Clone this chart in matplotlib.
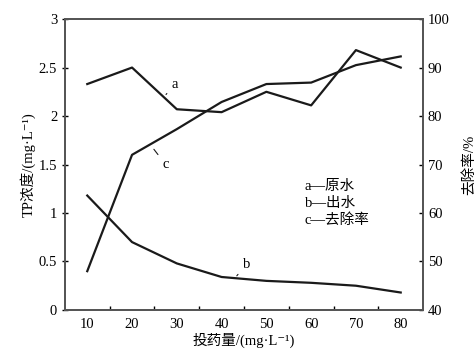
import matplotlib
matplotlib.use('Agg')
import matplotlib.pyplot as plt
from matplotlib.ticker import MultipleLocator, FuncFormatter

plt.rcParams['font.family'] = ['Liberation Serif', 'Noto Sans CJK SC', 'DejaVu Sans']

# Data
dose = [10, 20, 30, 40, 50, 60, 70, 80]
raw_tp = [2.33, 2.50, 2.07, 2.04, 2.25, 2.11, 2.68, 2.50]       # a 原水
out_tp = [1.18, 0.70, 0.48, 0.34, 0.30, 0.28, 0.25, 0.18]       # b 出水
removal = [48.0, 72.0, 77.3, 82.9, 86.6, 86.9, 90.5, 92.3]      # c 去除率

LINE = '#1a1a1a'
FS = 10.5

fig = plt.figure(figsize=(4.77, 3.6), dpi=100)
ax = fig.add_axes([0.136, 0.139, 0.751, 0.808])
ax2 = ax.twinx()

ax.plot(dose, raw_tp, color=LINE, lw=1.6)
ax.plot(dose, out_tp, color=LINE, lw=1.6)
ax2.plot(dose, removal, color=LINE, lw=1.6)

ax.set_xlim(5, 85)
ax.set_ylim(0, 3)
ax2.set_ylim(40, 100)
ax.set_xticks(dose)
ax.set_xticks([15, 25, 35, 45, 55, 65, 75], minor=True)
ax.yaxis.set_major_locator(MultipleLocator(0.5))
ax.yaxis.set_major_formatter(FuncFormatter(lambda v, p: f'{v:g}'))
ax2.yaxis.set_major_locator(MultipleLocator(10))

ax.tick_params(axis='x', which='major', length=0, labelsize=FS, pad=6)
ax.tick_params(axis='x', which='minor', direction='in', length=3, width=1)
ax.tick_params(axis='y', direction='inout', length=4, width=1, labelsize=FS)
ax2.tick_params(axis='y', direction='in', length=3, width=1, labelsize=FS)

for a in (ax, ax2):
    for s in a.spines.values():
        s.set_linewidth(1.3)
        s.set_color('#555555')

ax.set_xlabel('投药量/(mg·L⁻¹)', fontsize=FS, labelpad=1)
ax.set_ylabel('TP浓度/(mg·L⁻¹)', fontsize=FS, labelpad=2)
ax2.set_ylabel('去除率/%', fontsize=FS, rotation=90, labelpad=9)

# curve labels with leader lines
ax.annotate('a', xy=(27.2, 2.20), xytext=(29.5, 2.33), fontsize=FS,
            arrowprops=dict(arrowstyle='-', color=LINE, lw=0.8),
            ha='center', va='center')
ax.annotate('c', xy=(24.5, 1.68), xytext=(27.5, 1.50), fontsize=FS,
            arrowprops=dict(arrowstyle='-', color=LINE, lw=0.8),
            ha='center', va='center')
ax.annotate('b', xy=(43, 0.33), xytext=(45.5, 0.47), fontsize=FS,
            arrowprops=dict(arrowstyle='-', color=LINE, lw=0.8),
            ha='center', va='center')

ax.text(0.67, 0.285, 'a—原水\nb—出水\nc—去除率', transform=ax.transAxes,
        fontsize=FS, va='bottom', ha='left', linespacing=1.35)

fig.savefig('out.png', dpi=100)
